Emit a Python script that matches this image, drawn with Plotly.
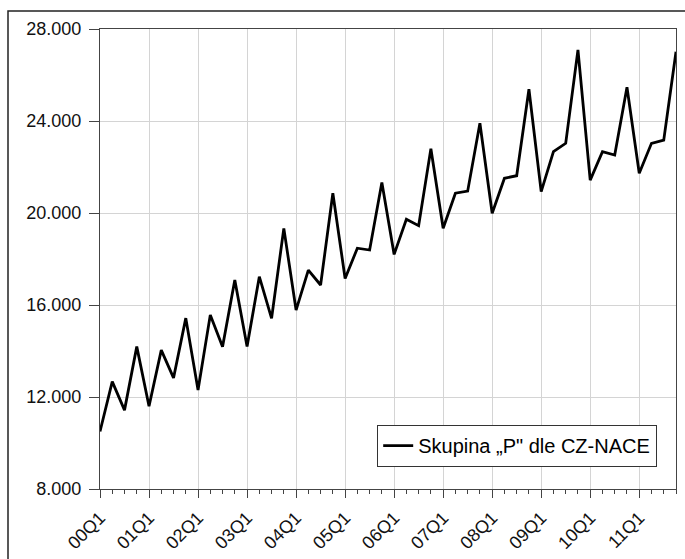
import plotly.graph_objects as go

quarters = [f"{y:02d}Q{q}" for y in range(0, 12) for q in range(1, 5)]
values = [
    10500, 12670, 11430, 14190,
    11600, 14040, 12830, 15430,
    12300, 15570, 14190, 17090,
    14200, 17230, 15420, 19330,
    15780, 17520, 16870, 20860,
    17150, 18470, 18390, 21330,
    18200, 19730, 19450, 22790,
    19340, 20860, 20950, 23900,
    19990, 21510, 21620, 25380,
    20930, 22670, 23030, 27090,
    21430, 22670, 22520, 25470,
    21730, 23030, 23170, 27010,
]
series_name = "Skupina „P\" dle CZ-NACE"
y_ticks = [8000, 12000, 16000, 20000, 24000, 28000]

x_idx = list(range(len(quarters)))
tick_idx = x_idx[::4]
tick_text = quarters[::4]

fig = go.Figure()
fig.add_trace(go.Scatter(
    x=x_idx, y=values, mode="lines", name=series_name,
    line=dict(color="black", width=2.8),
    cliponaxis=False,
))

font = "Liberation Sans, Arial, sans-serif"
fig.update_layout(
    width=685, height=559,
    margin=dict(l=100, r=9, t=29, b=70, autoexpand=False),
    paper_bgcolor="white", plot_bgcolor="white",
    separators=",.",
    font=dict(family=font, color="black"),
    showlegend=True,
    legend=dict(
        x=0.967, y=0.048, xanchor="right", yanchor="bottom",
        bgcolor="white", bordercolor="#333", borderwidth=1.2,
        font=dict(size=20, family=font, color="black"),
        tracegroupgap=0, itemwidth=30,
    ),
    xaxis=dict(
        range=[0, 47], tickvals=tick_idx, ticktext=tick_text,
        tickangle=-45, tickfont=dict(size=18, color="#111"),
        ticks="outside", ticklen=8, tickcolor="#444", tickwidth=1,
        ticklabelstandoff=2,
        showgrid=True, gridcolor="#d4d4d4", gridwidth=1,
        showline=True, linecolor="#444", linewidth=1.2, mirror=True,
        zeroline=False, automargin=False,
        minor=dict(tickvals=x_idx, ticks="outside", ticklen=4, tickcolor="#444", showgrid=False),
    ),
    yaxis=dict(
        range=[8000, 28000], tickvals=y_ticks, tickformat=",d",
        tickfont=dict(size=18, color="#111"),
        ticks="outside", ticklen=10, tickcolor="#444",
        ticklabelstandoff=4,
        showgrid=True, gridcolor="#d4d4d4", gridwidth=1,
        showline=True, linecolor="#444", linewidth=1.2, mirror=True,
        zeroline=False, automargin=False,
    ),
    shapes=[dict(
        type="rect", xref="paper", yref="paper",
        x0=(8 - 100) / 576, x1=(690 - 100) / 576,
        y0=(489 - 565) / 460, y1=(489 - 11) / 460,
        line=dict(color="#222", width=1.5), fillcolor="rgba(0,0,0,0)",
        layer="below",
    )],
)

fig.write_html(
    "out.html",
    config={"displayModeBar": False},
    post_script="document.body.style.margin='0';document.body.style.overflow='hidden';",
)
